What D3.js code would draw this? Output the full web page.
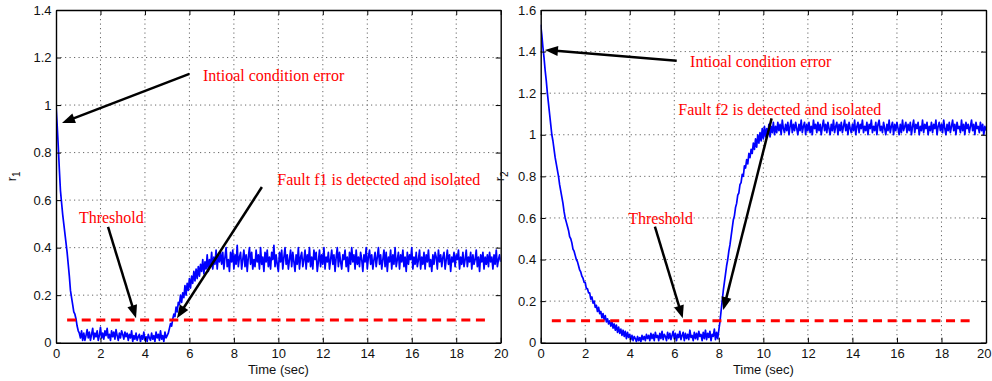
<!DOCTYPE html>
<html>
<head>
<meta charset="utf-8">
<script src="https://cdn.jsdelivr.net/npm/d3@7"></script>
<style>
  body { margin: 0; background: #fff; }
  svg { display: block; }
</style>
</head>
<body>
<svg id="chart" width="992" height="381"></svg>
<script>
// ---------------- DATA ----------------
const timeStep = 0.05;           // seconds between samples
const xTicks = [0, 2, 4, 6, 8, 10, 12, 14, 16, 18, 20];
const r1Ticks = [0, 0.2, 0.4, 0.6, 0.8, 1, 1.2, 1.4];
const r2Ticks = [0, 0.2, 0.4, 0.6, 0.8, 1, 1.2, 1.4, 1.6];
const xLabel = "Time (sec)";

// residual r1 (t = 0 .. 20 s, every 0.05 s)
const r1Values = [
  1.00, 0.92, 0.83, 0.73, 0.64, 0.59, 0.54, 0.50, 0.46, 0.42, 0.38, 0.33, 0.28, 0.22, 0.19, 0.16, 0.13, 0.12, 0.10, 0.07,
  0.05, 0.04, 0.02, 0.05, 0.01,
  0.04, 0.01, 0.03, 0.055, 0.02, 0.045, 0.01, 0.035, 0.06, 0.015, 0.04, 0.025, 0.05, 0.01, 0.03, 0.065, 0.02, 0.04, 0.015, 0.05,
  0.03, 0.06, 0.02, 0.035, 0.01, 0.05, 0.025, 0.045, 0.015, 0.055, 0.03, 0.01, 0.04, 0.02, 0.05, 0.035, 0.015, 0.045, 0.025, 0.04,
  0.01, 0.035, 0.02, 0.05, 0.005, 0.03, 0.015, 0.04, 0.01, 0.025, 0.035, 0.005, 0.03, 0.015, 0.045, 0.01, 0.025, 0.005, 0.035, 0.02,
  0.01, 0.04, 0.015, 0.03, 0.005, 0.045, 0.02, 0.035, 0.01, 0.05, 0.015, 0.03, 0.005, 0.045, 0.02, 0.03,
  0.04, 0.06, 0.08, 0.07, 0.10, 0.12, 0.11, 0.15, 0.13, 0.17, 0.16, 0.20, 0.17, 0.21, 0.19, 0.24, 0.20, 0.25, 0.22, 0.27,
  0.23, 0.28, 0.25, 0.30, 0.26, 0.31, 0.27, 0.32, 0.28, 0.33, 0.30, 0.35, 0.29, 0.34, 0.31, 0.37, 0.30, 0.35, 0.32, 0.38,
  0.31, 0.36, 0.33, 0.39, 0.31, 0.37, 0.34, 0.38,
  0.33, 0.38, 0.31, 0.36, 0.40, 0.32, 0.35, 0.30, 0.38, 0.34, 0.39, 0.31, 0.37, 0.33, 0.41, 0.32, 0.36, 0.38, 0.31, 0.35,
  0.39, 0.32, 0.37, 0.30, 0.36, 0.40, 0.33, 0.38, 0.31, 0.35, 0.32, 0.39, 0.34, 0.37, 0.31, 0.40, 0.33, 0.36, 0.30, 0.38,
  0.34, 0.39, 0.32, 0.36, 0.31, 0.38, 0.35, 0.41, 0.32, 0.37, 0.33, 0.30, 0.38, 0.34, 0.39, 0.31, 0.36, 0.40, 0.33, 0.37,
  0.31, 0.35, 0.39, 0.32, 0.38, 0.34, 0.30, 0.37, 0.33, 0.40, 0.31, 0.36, 0.38, 0.32, 0.35, 0.39, 0.31, 0.37, 0.34, 0.40,
  0.32, 0.36, 0.31, 0.39, 0.35, 0.38, 0.30, 0.34, 0.39, 0.32, 0.37, 0.33, 0.40, 0.31, 0.36, 0.34, 0.38, 0.31, 0.35, 0.39,
  0.33, 0.37, 0.30, 0.36, 0.40, 0.32, 0.38, 0.34, 0.31, 0.37, 0.35, 0.39, 0.32, 0.36, 0.30, 0.38, 0.33, 0.40, 0.34, 0.37,
  0.31, 0.39, 0.33, 0.36, 0.32, 0.38, 0.35, 0.30, 0.37, 0.34, 0.40, 0.31, 0.36, 0.39, 0.33, 0.37, 0.31, 0.35, 0.38, 0.32,
  0.36, 0.40, 0.33, 0.37, 0.31, 0.35, 0.39, 0.32, 0.38, 0.30, 0.36, 0.34, 0.39, 0.31, 0.37, 0.33, 0.40, 0.32, 0.35, 0.38,
  0.31, 0.37, 0.34, 0.39, 0.32, 0.36, 0.30, 0.38, 0.33, 0.37, 0.35, 0.40, 0.31, 0.36, 0.33, 0.38, 0.32, 0.35, 0.39, 0.31,
  0.36, 0.33, 0.38, 0.31, 0.37, 0.34, 0.39, 0.32, 0.35, 0.30, 0.37, 0.33, 0.38, 0.36, 0.31, 0.39, 0.34, 0.37, 0.32, 0.36,
  0.38, 0.31, 0.35, 0.39, 0.33, 0.37, 0.30, 0.36, 0.34, 0.38, 0.32, 0.37, 0.35, 0.39, 0.31, 0.36, 0.33, 0.38, 0.32, 0.35,
  0.39, 0.32, 0.36, 0.34, 0.38, 0.31, 0.37, 0.33, 0.35, 0.39, 0.32, 0.36, 0.30, 0.37, 0.34, 0.38, 0.31, 0.36, 0.33, 0.37,
  0.32, 0.38, 0.34, 0.36, 0.31, 0.37, 0.33, 0.39, 0.32, 0.35, 0.37, 0.34
];

// residual r2 (t = 0 .. 20 s, every 0.05 s)
const r2Values = [
  1.53, 1.48, 1.42, 1.37, 1.31, 1.26, 1.20, 1.15, 1.10, 1.05, 1.00, 0.97, 0.93, 0.89, 0.86, 0.83, 0.80, 0.76, 0.73, 0.70,
  0.67, 0.63, 0.60, 0.58, 0.56, 0.54, 0.51, 0.50, 0.48, 0.45, 0.44, 0.42, 0.40, 0.39, 0.37, 0.35, 0.34, 0.32, 0.31, 0.29,
  0.29, 0.26, 0.26, 0.24, 0.24, 0.21, 0.22, 0.19, 0.20, 0.17, 0.18, 0.15, 0.17, 0.14, 0.15, 0.12, 0.14, 0.11, 0.13, 0.10,
  0.115,
  0.09, 0.105, 0.08, 0.10, 0.07, 0.09, 0.06, 0.085, 0.05, 0.075, 0.045, 0.065, 0.035, 0.06, 0.03, 0.055, 0.02, 0.05, 0.025, 0.04,
  0.015, 0.035, 0.01, 0.03, 0.02, 0.005, 0.03, 0.01, 0.025, 0.005, 0.035, 0.015, 0.03, 0.01, 0.04, 0.02, 0.035, 0.01, 0.045, 0.02,
  0.04, 0.01, 0.05, 0.025, 0.035, 0.01, 0.045, 0.02, 0.055, 0.015, 0.04, 0.03, 0.01, 0.05, 0.02, 0.045, 0.015, 0.035, 0.055, 0.02,
  0.045, 0.01, 0.04, 0.025, 0.055, 0.015, 0.035, 0.05, 0.01, 0.045, 0.02, 0.04, 0.015, 0.06, 0.025, 0.035, 0.01, 0.05, 0.02, 0.045,
  0.015, 0.055, 0.03, 0.04, 0.01, 0.05, 0.02, 0.06, 0.015, 0.045, 0.025, 0.055, 0.01, 0.04, 0.03, 0.065, 0.015, 0.05, 0.02, 0.06,
  0.10, 0.15, 0.20, 0.25, 0.29, 0.33, 0.37, 0.40, 0.44, 0.47, 0.51, 0.55, 0.59, 0.61, 0.65, 0.67, 0.71, 0.72, 0.76, 0.77,
  0.81, 0.80, 0.85, 0.84, 0.88, 0.86, 0.91, 0.89, 0.93, 0.91, 0.96, 0.93, 0.98, 0.94, 1.00, 0.96, 1.01, 0.97, 1.03, 0.98,
  1.04, 0.99, 1.03, 1.00, 1.05, 0.99, 1.04, 1.01, 1.06, 1.00,
  1.04, 1.01, 1.06, 1.02, 1.05, 1.00, 1.07, 1.03, 1.01, 1.05, 1.02, 1.06, 1.00, 1.04, 1.07, 1.01, 1.05, 1.02, 1.06, 1.03,
  1.00, 1.05, 1.02, 1.07, 1.01, 1.04, 1.06, 1.00, 1.05, 1.02, 1.06, 1.01, 1.04, 1.00, 1.07, 1.03, 1.05, 1.01, 1.06, 1.02,
  1.05, 1.00, 1.04, 1.07, 1.02, 1.05, 1.01, 1.06, 1.03, 1.00, 1.05, 1.02, 1.07, 1.01, 1.04, 1.06, 1.00, 1.05, 1.02, 1.06,
  1.01, 1.04, 1.07, 1.02, 1.05, 1.00, 1.06, 1.03, 1.01, 1.05, 1.02, 1.07, 1.00, 1.04, 1.06, 1.01, 1.05, 1.03, 1.07, 1.01,
  1.04, 1.02, 1.06, 1.00, 1.05, 1.03, 1.07, 1.01, 1.04, 1.02, 1.06, 1.00, 1.05, 1.07, 1.02, 1.04, 1.01, 1.06, 1.03, 1.00,
  1.05, 1.02, 1.07, 1.01, 1.04, 1.06, 1.00, 1.05, 1.02, 1.06, 1.03, 1.00, 1.05, 1.01, 1.07, 1.02, 1.04, 1.06, 1.01, 1.05,
  1.02, 1.06, 1.00, 1.04, 1.07, 1.01, 1.05, 1.03, 1.06, 1.00, 1.04, 1.02, 1.07, 1.01, 1.05, 1.03, 1.06, 1.00, 1.04, 1.02,
  1.06, 1.01, 1.05, 1.03, 1.07, 1.00, 1.04, 1.06, 1.02, 1.05, 1.01, 1.07, 1.03, 1.00, 1.05, 1.02, 1.06, 1.01, 1.04, 1.07,
  1.02, 1.05, 1.00, 1.06, 1.03, 1.04, 1.01, 1.07, 1.02, 1.05, 1.00, 1.06, 1.03, 1.05, 1.01, 1.04, 1.07, 1.02, 1.05, 1.00,
  1.06, 1.03, 1.04, 1.01, 1.06, 1.02, 1.05, 1.00, 1.04, 1.02
];

const r1Threshold = 0.095;
const r2Threshold = 0.105;
const thresholdStart = 0.5;
const thresholdEnd = 19.5;

// annotations (data coordinates: text anchor, arrow tail, arrow tip)
const r1NoteTexts = ["Intioal condition error", "Threshold", "Fault f1 is detected and isolated"];
const r1NoteAt    = [[6.61, 1.103], [1.03, 0.502], [9.95, 0.664]];
const r1ArrowFrom = [[6.00, 1.131], [2.34, 0.487], [9.26, 0.655]];
const r1ArrowTo   = [[0.27, 0.925], [3.60, 0.103], [5.44, 0.103]];

const r2NoteTexts = ["Intioal condition error", "Fault f2 is detected and isolated", "Threshold"];
const r2NoteAt    = [[6.71, 1.326], [6.18, 1.095], [3.93, 0.571]];
const r2ArrowFrom = [[6.11, 1.356], [10.37, 1.079], [5.13, 0.558]];
const r2ArrowTo   = [[0.19, 1.408], [8.20, 0.157], [6.38, 0.117]];

// ---------------- LAYOUT ----------------
const svg = d3.select("#chart");
const plotTop = 10, plotBottom = 342.7;
const panels = [
  { id: "p1", values: r1Values, ticks: r1Ticks, ymax: 1.4, threshold: r1Threshold, sub: "1",
    texts: r1NoteTexts, at: r1NoteAt, from: r1ArrowFrom, to: r1ArrowTo,
    left: 56, right: 500.7, ylabelX: 16, clampLast: false },
  { id: "p2", values: r2Values, ticks: r2Ticks, ymax: 1.6, threshold: r2Threshold, sub: "2",
    texts: r2NoteTexts, at: r2NoteAt, from: r2ArrowFrom, to: r2ArrowTo,
    left: 540.7, right: 986, ylabelX: 504, clampLast: true }
];

const fmt = d => String(+(+d).toFixed(1));
const sansFont = "'Liberation Sans', Arial, Helvetica, sans-serif";
const serifFont = "'Liberation Serif', 'Times New Roman', Times, serif";

panels.forEach(p => {
  const x = d3.scaleLinear().domain([0, 20]).range([p.left, p.right]);
  const y = d3.scaleLinear().domain([0, p.ymax]).range([plotBottom, plotTop]);
  const g = svg.append("g");

  svg.append("clipPath").attr("id", "clip-" + p.id)
    .append("rect").attr("x", p.left).attr("y", plotTop)
    .attr("width", p.right - p.left).attr("height", plotBottom - plotTop);

  // grid
  const grid = g.append("g").attr("stroke", "#666").attr("stroke-width", 1)
    .attr("stroke-dasharray", "1.2,3.3");
  grid.selectAll("line.gx").data(xTicks.slice(1, -1)).join("line").attr("class", "gx")
    .attr("x1", d => x(d)).attr("x2", d => x(d)).attr("y1", plotTop).attr("y2", plotBottom);
  grid.selectAll("line.gy").data(p.ticks.slice(1, -1)).join("line").attr("class", "gy")
    .attr("y1", d => y(d)).attr("y2", d => y(d)).attr("x1", p.left).attr("x2", p.right);

  // signal
  const line = d3.line().x((d, i) => x(i * timeStep)).y(d => y(d));
  g.append("path").datum(p.values).attr("d", line)
    .attr("clip-path", "url(#clip-" + p.id + ")")
    .attr("fill", "none").attr("stroke", "#0000ff").attr("stroke-width", 1.7)
    .attr("stroke-linejoin", "round");

  // threshold
  g.append("line")
    .attr("x1", x(thresholdStart)).attr("x2", x(thresholdEnd))
    .attr("y1", y(p.threshold)).attr("y2", y(p.threshold))
    .attr("stroke", "#ff0000").attr("stroke-width", 3).attr("stroke-dasharray", "9,5.6");

  // axes (box with inward ticks)
  const axB = d3.axisBottom(x).tickValues(xTicks).tickFormat(fmt).tickSizeInner(-5).tickSizeOuter(0).tickPadding(6);
  const axT = d3.axisTop(x).tickValues(xTicks).tickFormat("").tickSizeInner(-5).tickSizeOuter(0);
  const axL = d3.axisLeft(y).tickValues(p.ticks).tickFormat(fmt).tickSizeInner(-5).tickSizeOuter(0).tickPadding(4.5);
  const axR = d3.axisRight(y).tickValues(p.ticks).tickFormat("").tickSizeInner(-5).tickSizeOuter(0);
  const bottomAxis = g.append("g").attr("transform", `translate(0,${plotBottom})`).call(axB);
  const axes = [
    bottomAxis,
    g.append("g").attr("transform", `translate(0,${plotTop})`).call(axT),
    g.append("g").attr("transform", `translate(${p.left},0)`).call(axL),
    g.append("g").attr("transform", `translate(${p.right},0)`).call(axR)
  ];
  axes.forEach(a => {
    a.selectAll("path.domain").attr("stroke", "#000").attr("stroke-width", 1.4);
    a.selectAll(".tick line").attr("stroke", "#000").attr("stroke-width", 1);
    a.selectAll("text").attr("font-family", sansFont).attr("font-size", 13).attr("fill", "#111");
  });
  if (p.clampLast) {
    // keep the last tick label inside the page edge
    bottomAxis.selectAll(".tick").filter(d => d === 20).select("text")
      .attr("text-anchor", "end").attr("x", 991 - p.right);
  }

  // x label
  g.append("text").attr("x", (p.left + p.right) / 2).attr("y", 374)
    .attr("text-anchor", "middle").attr("font-family", sansFont).attr("font-size", 13)
    .attr("fill", "#111").text(xLabel);

  // y label r_n
  const yl = g.append("text")
    .attr("transform", `translate(${p.ylabelX},${(plotTop + plotBottom) / 2}) rotate(-90)`)
    .attr("text-anchor", "middle").attr("font-family", sansFont).attr("font-size", 13).attr("fill", "#111");
  yl.append("tspan").text("r");
  yl.append("tspan").attr("dy", 4).attr("font-size", 10).text(p.sub);

  // annotations
  p.texts.forEach((t, i) => {
    g.append("text").attr("x", x(p.at[i][0])).attr("y", y(p.at[i][1]))
      .attr("font-family", serifFont).attr("font-size", 16).attr("fill", "#ff0000").text(t);

    const x1 = x(p.from[i][0]), y1 = y(p.from[i][1]);
    const x2 = x(p.to[i][0]), y2 = y(p.to[i][1]);
    const ang = Math.atan2(y2 - y1, x2 - x1);
    const headLen = 13, headHalf = 5;
    const bx = x2 - headLen * Math.cos(ang), by = y2 - headLen * Math.sin(ang);
    g.append("line").attr("x1", x1).attr("y1", y1)
      .attr("x2", x2 - (headLen - 2) * Math.cos(ang)).attr("y2", y2 - (headLen - 2) * Math.sin(ang))
      .attr("stroke", "#000").attr("stroke-width", 2.5);
    const pts = [
      [x2, y2],
      [bx + headHalf * Math.sin(ang), by - headHalf * Math.cos(ang)],
      [bx - headHalf * Math.sin(ang), by + headHalf * Math.cos(ang)]
    ];
    g.append("polygon").attr("points", pts.map(q => q.join(",")).join(" ")).attr("fill", "#000");
  });
});
</script>
</body>
</html>
